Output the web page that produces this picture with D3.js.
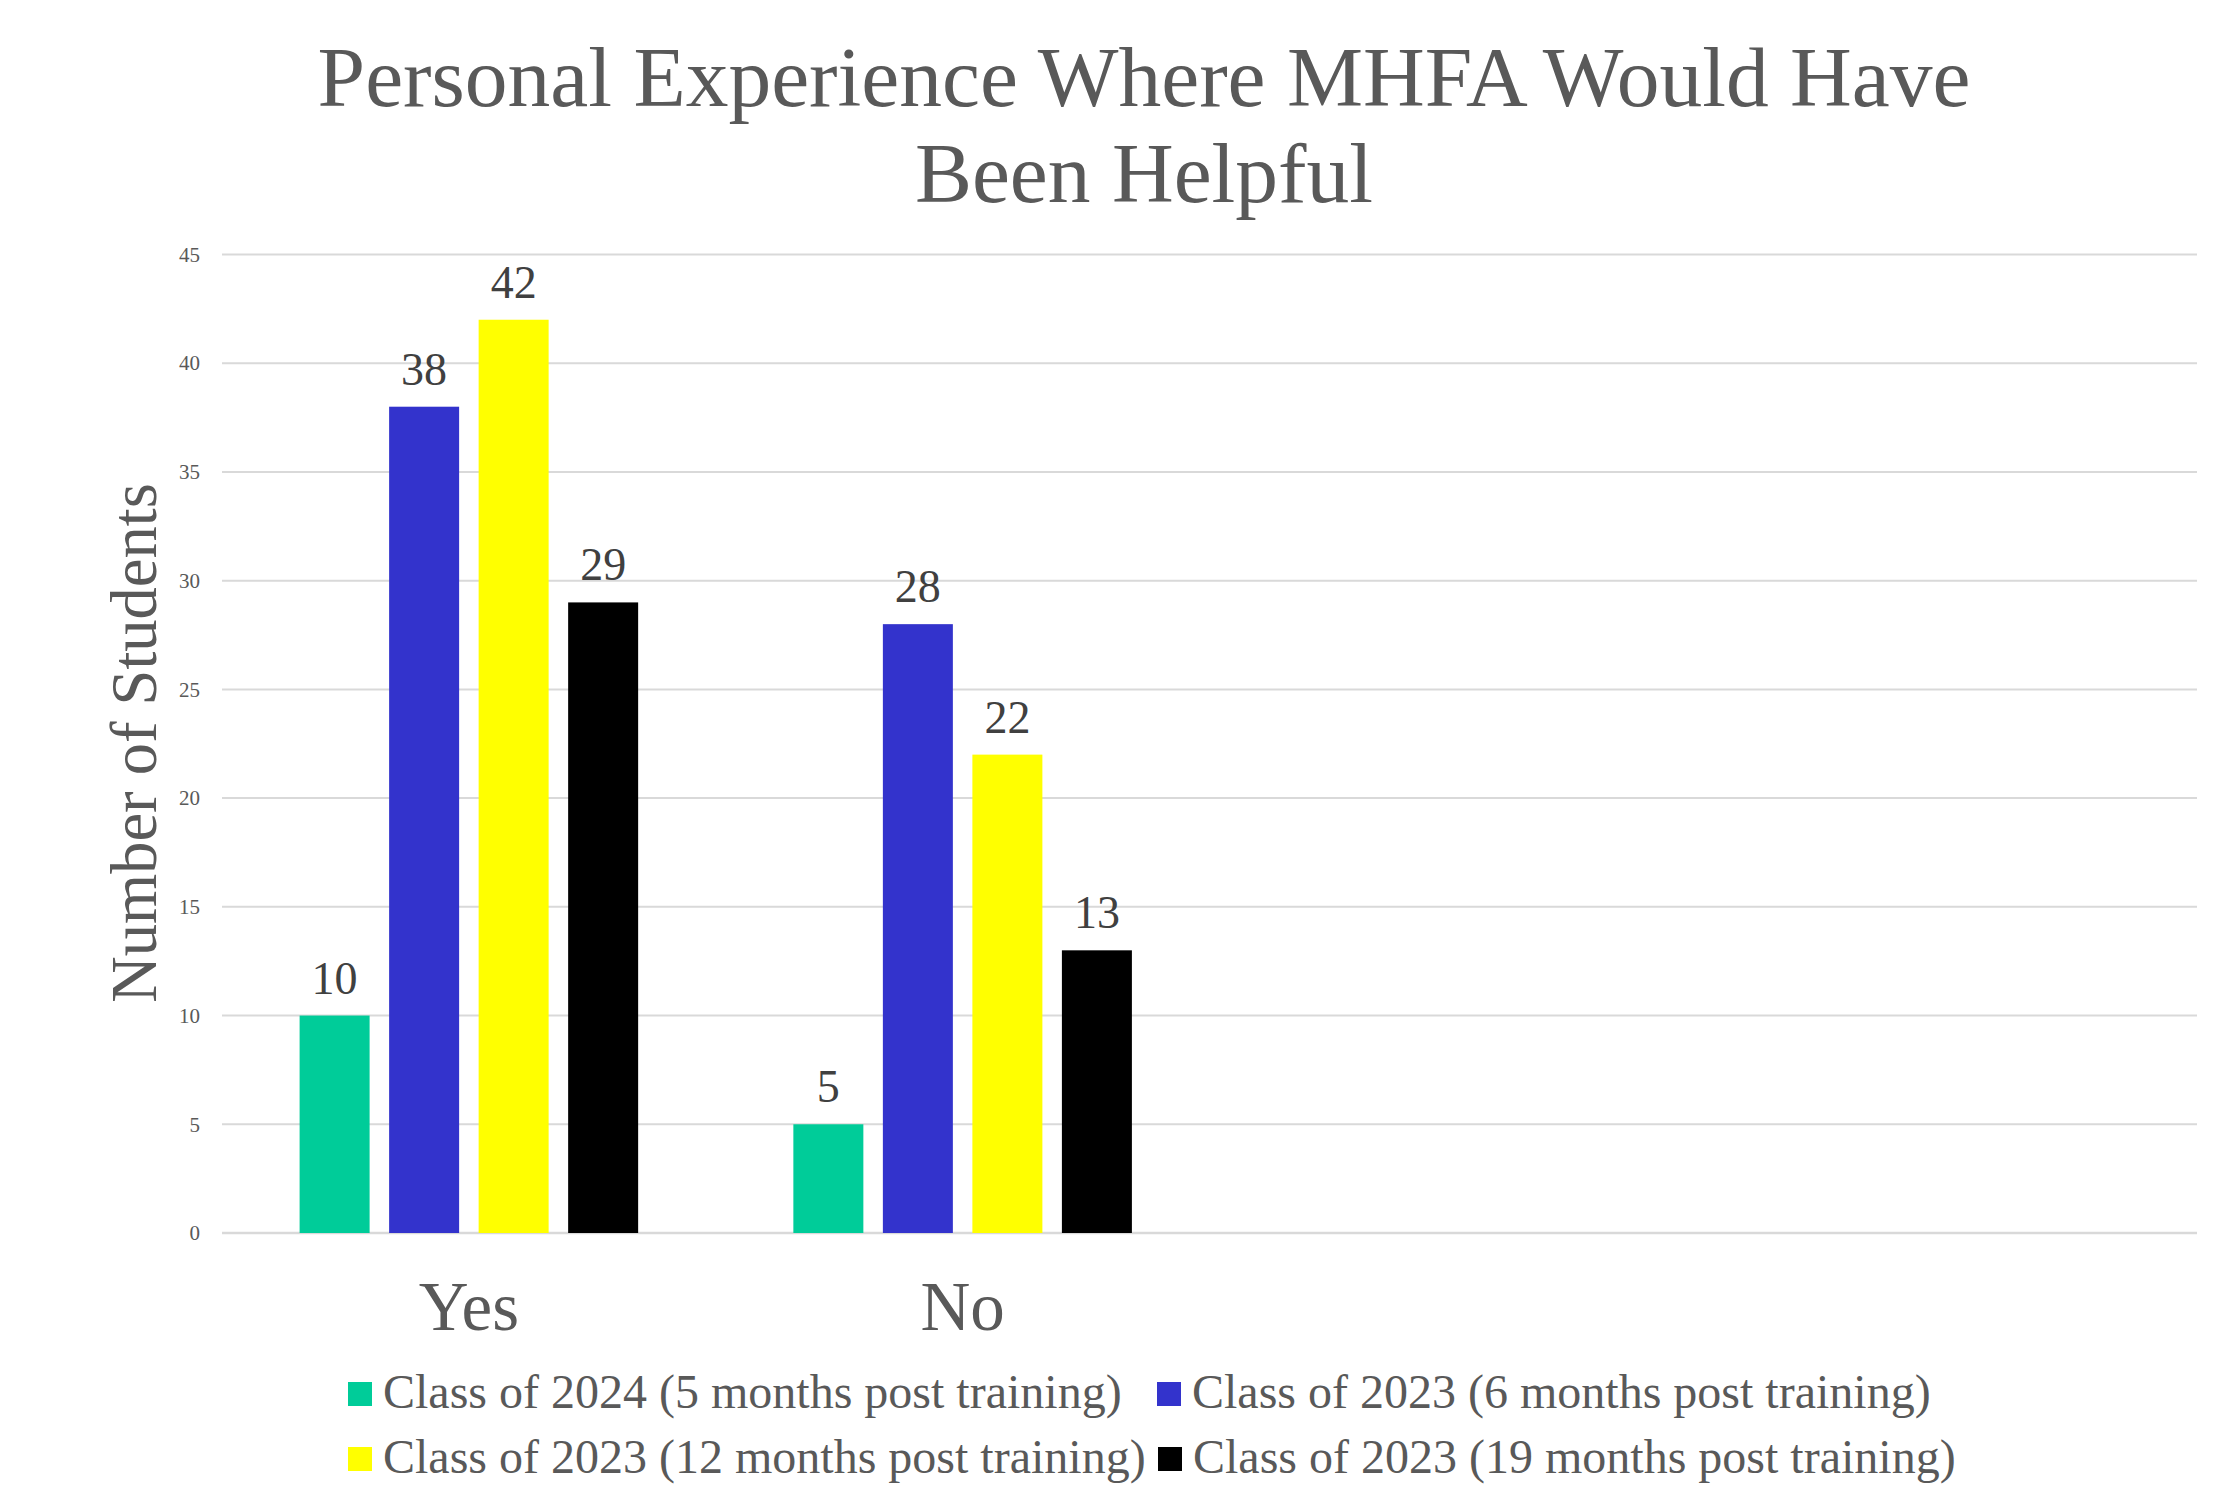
<!DOCTYPE html>
<html>
<head>
<meta charset="utf-8">
<script src="https://cdn.jsdelivr.net/npm/d3@7/dist/d3.min.js"></script>
<style>
  html, body { margin: 0; padding: 0; background: #ffffff; }
  svg { display: block; }
  text { font-family: "Liberation Serif", "Times New Roman", serif; }
</style>
</head>
<body>
<svg id="chart" width="2218" height="1493"></svg>
<script>
// ---- data ----
const categories = ["Yes", "No", "", ""];
const seriesNames = [
  "Class of 2024 (5 months post training)",
  "Class of 2023 (6 months post training)",
  "Class of 2023 (12 months post training)",
  "Class of 2023 (19 months post training)"
];
const seriesColors = ["#00CC99", "#3333CC", "#FFFF00", "#000000"];
const class2024_5mo  = [10, 5, null, null];
const class2023_6mo  = [38, 28, null, null];
const class2023_12mo = [42, 22, null, null];
const class2023_19mo = [29, 13, null, null];
const seriesValues = [class2024_5mo, class2023_6mo, class2023_12mo, class2023_19mo];
const yTicks = [0, 5, 10, 15, 20, 25, 30, 35, 40, 45];
const titleLines = ["Personal Experience Where MHFA Would Have", "Been Helpful"];
const yTitle = "Number of Students";

// ---- layout ----
const W = 2218, H = 1493;
const plot = { left: 222, right: 2197, top: 254.5, bottom: 1233 };
const svg = d3.select("#chart");
svg.append("rect").attr("width", W).attr("height", H).attr("fill", "#fff");

const x0 = d3.scaleBand().domain(d3.range(categories.length))
  .range([plot.left, plot.right]).paddingInner(0).paddingOuter(0);
const x1 = d3.scaleBand().domain(d3.range(seriesNames.length))
  .range([0, x0.bandwidth()]).paddingInner(0.218).paddingOuter(0.867);
const y = d3.scaleLinear().domain([0, 45]).range([plot.bottom, plot.top]);

// gridlines
const grid = svg.append("g");
grid.selectAll("line").data(yTicks).join("line")
  .attr("x1", plot.left).attr("x2", plot.right)
  .attr("y1", d => y(d)).attr("y2", d => y(d))
  .attr("stroke", "#D9D9D9").attr("stroke-width", d => d === 0 ? 2.5 : 2);

// y axis tick labels
const yAxis = d3.axisLeft(y).tickValues(yTicks).tickSize(0).tickPadding(22);
const yg = svg.append("g").attr("transform", `translate(${plot.left},0)`).call(yAxis);
yg.select(".domain").remove();
yg.attr("font-family", null);
yg.selectAll("text").attr("font-size", 21).attr("fill", "#595959");

// bars
const groups = svg.append("g").selectAll("g").data(categories).join("g")
  .attr("transform", (d, i) => `translate(${x0(i)},0)`);
groups.each(function(cat, ci) {
  const g = d3.select(this);
  seriesValues.forEach((vals, si) => {
    const v = vals[ci];
    if (v == null) return;
    g.append("rect")
      .attr("x", x1(si)).attr("width", x1.bandwidth())
      .attr("y", y(v)).attr("height", y(0) - y(v))
      .attr("fill", seriesColors[si]);
    g.append("text")
      .attr("x", x1(si) + x1.bandwidth() / 2).attr("y", y(v) - 22)
      .attr("text-anchor", "middle").attr("font-size", 46)
      .attr("fill", "#404040").text(v);
  });
});

// category labels
svg.append("g").selectAll("text").data(categories).join("text")
  .attr("x", (d, i) => x0(i) + x0.bandwidth() / 2)
  .attr("y", 1330).attr("text-anchor", "middle")
  .attr("font-size", 69).attr("fill", "#595959").text(d => d);

// title
svg.append("g").selectAll("text").data(titleLines).join("text")
  .attr("x", 1144).attr("y", (d, i) => 106 + i * 96)
  .attr("text-anchor", "middle").attr("font-size", 85.5).attr("fill", "#595959")
  .text(d => d);

// y title
svg.append("text")
  .attr("transform", `translate(156,743) rotate(-90)`)
  .attr("text-anchor", "middle").attr("font-size", 64.5).attr("fill", "#595959")
  .text(yTitle);

// legend
const legendPos = [
  { mx: 348, tx: 383, by: 1408 },
  { mx: 1157, tx: 1192, by: 1408 },
  { mx: 348, tx: 383, by: 1473 },
  { mx: 1158, tx: 1193, by: 1473 }
];
const lg = svg.append("g").selectAll("g").data(seriesNames).join("g");
lg.append("rect")
  .attr("x", (d, i) => legendPos[i].mx).attr("y", (d, i) => legendPos[i].by - 26)
  .attr("width", 24).attr("height", 24)
  .attr("fill", (d, i) => seriesColors[i]);
lg.append("text")
  .attr("x", (d, i) => legendPos[i].tx).attr("y", (d, i) => legendPos[i].by)
  .attr("font-size", 48).attr("fill", "#595959").text(d => d);
</script>
</body>
</html>
